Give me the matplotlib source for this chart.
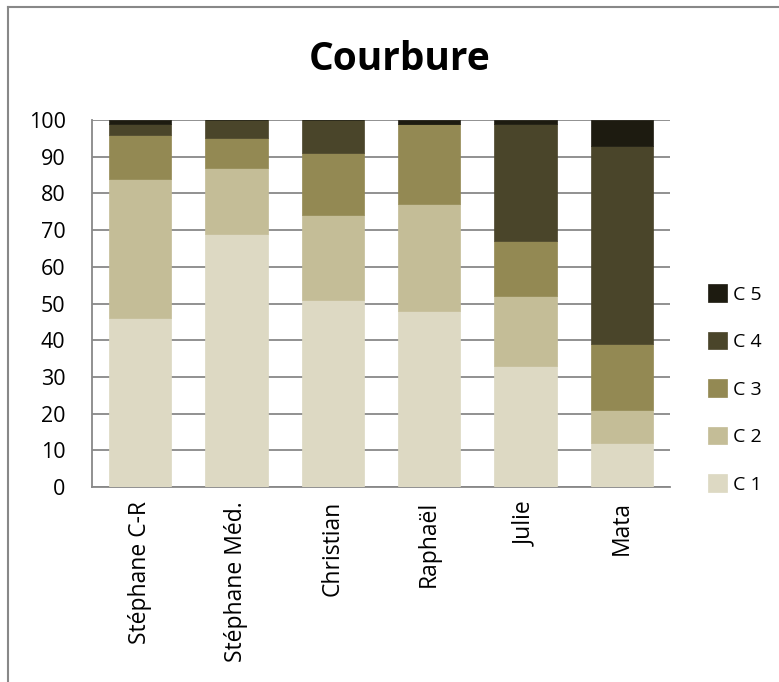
import matplotlib
import matplotlib.pyplot as plt
from matplotlib.lines import Line2D

matplotlib.use("Agg")

PEOPLE = ["Stéphane C-R", "Stéphane Méd.", "Christian", "Raphaël", "Julie", "Mata"]
C1 = [46, 69, 51, 48, 33, 12]
C2 = [38, 18, 23, 29, 19, 9]
C3 = [12, 8, 17, 22, 15, 18]
C4 = [3, 5, 9, 0, 32, 54]
C5 = [1, 0, 0, 1, 1, 7]
SERIES = ["C 1", "C 2", "C 3", "C 4", "C 5"]
COLORS = ["#DDD9C3", "#C4BD97", "#938953", "#4A452A", "#1D1B10"]

plt.rcParams["font.family"] = ["Open Sans", "DejaVu Sans"]

W, H = 779, 682
fig = plt.figure(figsize=(W / 100, H / 100), dpi=100)
ax = fig.add_axes([92 / W, 1 - 487 / H, (670 - 92) / W, (487 - 120) / H])

x = range(len(PEOPLE))
bottom = [0] * len(PEOPLE)
handles = []
for name, vals, col in zip(SERIES, [C1, C2, C3, C4, C5], COLORS):
    b = ax.bar(x, vals, bottom=bottom, width=0.65, color=col, label=name,
               edgecolor=col, linewidth=0.5, zorder=3)
    handles.append(b)
    bottom = [bo + v for bo, v in zip(bottom, vals)]

ax.set_xlim(-0.5, len(PEOPLE) - 0.5)
ax.set_ylim(0, 100)
ax.set_yticks(range(0, 101, 10))
ax.tick_params(axis="y", labelsize=15.5, length=0, pad=19)
ax.set_xticks(list(x))
ax.set_xticklabels(PEOPLE, rotation=90, fontsize=16.5)
ax.tick_params(axis="x", length=0, pad=10)
ax.grid(axis="y", color="#888888", linewidth=1.3, zorder=0)
for side in ["top", "right"]:
    ax.spines[side].set_visible(False)
for side in ["left", "bottom"]:
    ax.spines[side].set_color("#888888")
    ax.spines[side].set_linewidth(1.3)

fig.text(400 / W, 1 - 59 / H, "Courbure", ha="center", va="center",
         fontsize=28, fontweight="bold")

fig.legend(handles[::-1], SERIES[::-1], loc="center left",
           bbox_to_anchor=(698 / W, 1 - 389 / H), frameon=False, borderpad=0,
           fontsize=14, handlelength=1.0, handleheight=1.0,
           handletextpad=0.3, labelspacing=1.45)

# outer frame: only the left and top edges are visible
fig.lines.append(Line2D([8 / W, 8 / W], [0, 1 - 7 / H], transform=fig.transFigure,
                        color="#888888", linewidth=1.5))
fig.lines.append(Line2D([8 / W, 1], [1 - 7 / H, 1 - 7 / H], transform=fig.transFigure,
                        color="#888888", linewidth=1.5))

fig.savefig("out.png", dpi=100)
